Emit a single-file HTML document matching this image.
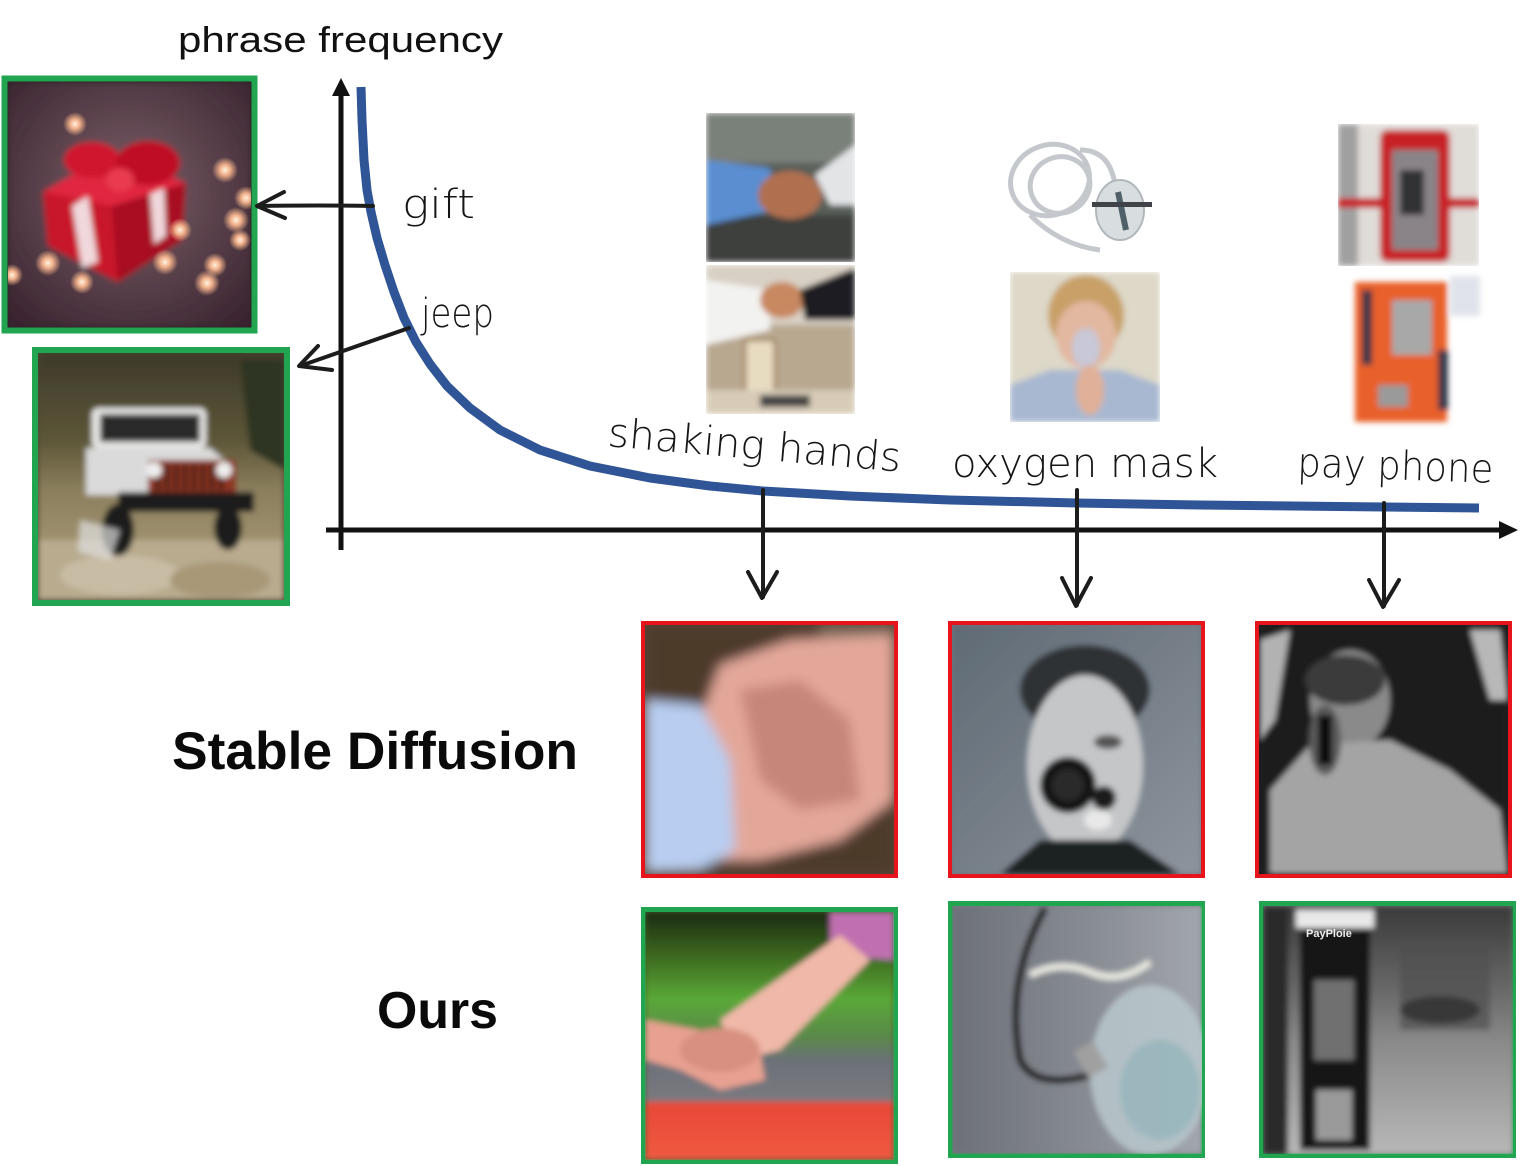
<!DOCTYPE html>
<html><head><meta charset="utf-8"><style>
html,body{margin:0;padding:0;background:#fff;}
svg{display:block;}
.hw{font-family:"DejaVu Sans","Liberation Sans",sans-serif;font-weight:200;fill:#151515;}
.ax{font-family:"Liberation Sans",Arial,sans-serif;}
</style></head><body>
<svg width="1522" height="1166" viewBox="0 0 1522 1166" xmlns="http://www.w3.org/2000/svg">
<defs>
<filter id="b3" x="-10%" y="-10%" width="120%" height="120%"><feGaussianBlur stdDeviation="3"/></filter>
<filter id="b6" x="-10%" y="-10%" width="120%" height="120%"><feGaussianBlur stdDeviation="6"/></filter>
<radialGradient id="giftbg" cx="0.5" cy="0.45" r="0.7"><stop offset="0" stop-color="#7c6068"/><stop offset="1" stop-color="#3a2430"/></radialGradient>
<radialGradient id="light" cx="0.5" cy="0.5" r="0.5"><stop offset="0" stop-color="#fff2e0"/><stop offset="0.4" stop-color="#f0b08a"/><stop offset="1" stop-color="#f0b08a" stop-opacity="0"/></radialGradient>
<linearGradient id="jeepbg" x1="0" y1="0" x2="0" y2="1"><stop offset="0" stop-color="#3e3a2a"/><stop offset="0.35" stop-color="#5c5638"/><stop offset="0.55" stop-color="#8a7e5c"/><stop offset="1" stop-color="#b6a684"/></linearGradient>
<linearGradient id="sdox" x1="0" y1="0" x2="1" y2="1"><stop offset="0" stop-color="#5f6a74"/><stop offset="1" stop-color="#8d949c"/></linearGradient>
<linearGradient id="ourox" x1="0" y1="0" x2="1" y2="0"><stop offset="0" stop-color="#6c7077"/><stop offset="0.6" stop-color="#8a8e95"/><stop offset="1" stop-color="#a2a6ad"/></linearGradient>
<linearGradient id="ourhand" x1="0" y1="0" x2="0" y2="1"><stop offset="0" stop-color="#1c2a10"/><stop offset="0.18" stop-color="#3d6a20"/><stop offset="0.35" stop-color="#5aa838"/><stop offset="0.5" stop-color="#5a8a48"/><stop offset="0.6" stop-color="#6c7078"/><stop offset="0.76" stop-color="#7a7a80"/><stop offset="0.77" stop-color="#e84838"/><stop offset="1" stop-color="#f05a40"/></linearGradient>
<linearGradient id="ourpay" x1="0" y1="0" x2="0" y2="1"><stop offset="0" stop-color="#3a3a3a"/><stop offset="0.35" stop-color="#6a6a6a"/><stop offset="0.55" stop-color="#8a8a8a"/><stop offset="1" stop-color="#b8b8b8"/></linearGradient>
<clipPath id="c1"><rect x="8" y="82" width="243" height="245"/></clipPath>
<clipPath id="c2"><rect x="38" y="353" width="246" height="247"/></clipPath>
<clipPath id="c3"><rect x="645" y="625" width="249" height="249"/></clipPath>
<clipPath id="c4"><rect x="952" y="625" width="249" height="249"/></clipPath>
<clipPath id="c5"><rect x="1259" y="625" width="249" height="249"/></clipPath>
<clipPath id="c6"><rect x="645" y="912" width="249" height="248"/></clipPath>
<clipPath id="c7"><rect x="952" y="906" width="250" height="248"/></clipPath>
<clipPath id="c8"><rect x="1263" y="906" width="250" height="248"/></clipPath>
<clipPath id="p1"><rect x="706" y="113" width="149" height="149"/></clipPath>
<clipPath id="p2"><rect x="706" y="265" width="149" height="149"/></clipPath>
<clipPath id="p4"><rect x="1010" y="272" width="150" height="150"/></clipPath>
<clipPath id="p5"><rect x="1338" y="124" width="141" height="142"/></clipPath>
</defs>

<!-- title -->
<text x="178" y="52" class="ax" font-size="36" textLength="325" lengthAdjust="spacingAndGlyphs" fill="#111">phrase frequency</text>

<!-- GIFT image -->
<rect x="4.5" y="78.5" width="250" height="252" fill="#2d2326" stroke="#22a550" stroke-width="6"/>
<g clip-path="url(#c1)">
 <g filter="url(#b3)">
  <rect x="8" y="82" width="243" height="245" fill="url(#giftbg)"/>
  <polygon points="43,192 112,152 186,183 182,240 118,282 48,246" fill="#c8142c"/>
  <polygon points="112,206 186,183 182,240 118,282" fill="#a80e22"/>
  <polygon points="43,192 112,152 186,183 112,206" fill="#e02640"/>
  <polygon points="72,206 88,196 98,262 82,268" fill="#f0d8dc"/>
  <polygon points="150,194 164,188 166,236 154,244" fill="#f0d8dc"/>
  <ellipse cx="92" cy="160" rx="28" ry="18" fill="#d0182e"/>
  <ellipse cx="148" cy="163" rx="32" ry="22" fill="#c01028"/>
  <ellipse cx="120" cy="180" rx="14" ry="12" fill="#e83a50"/>
 </g>
 <g>
  <circle cx="75" cy="124" r="12" fill="url(#light)"/>
  <circle cx="225" cy="170" r="13" fill="url(#light)"/>
  <circle cx="246" cy="198" r="12" fill="url(#light)"/>
  <circle cx="236" cy="220" r="13" fill="url(#light)"/>
  <circle cx="180" cy="230" r="12" fill="url(#light)"/>
  <circle cx="165" cy="262" r="13" fill="url(#light)"/>
  <circle cx="207" cy="283" r="13" fill="url(#light)"/>
  <circle cx="215" cy="265" r="12" fill="url(#light)"/>
  <circle cx="48" cy="263" r="13" fill="url(#light)"/>
  <circle cx="82" cy="282" r="12" fill="url(#light)"/>
  <circle cx="12" cy="275" r="11" fill="url(#light)"/>
  <circle cx="240" cy="240" r="11" fill="url(#light)"/>
 </g>
</g>

<!-- JEEP image -->
<rect x="35" y="350" width="252" height="253" fill="#4a4632" stroke="#22a550" stroke-width="6"/>
<g clip-path="url(#c2)">
 <g filter="url(#b3)">
  <rect x="38" y="353" width="246" height="247" fill="url(#jeepbg)"/>
  <polygon points="240,360 284,360 284,470 250,450" fill="#2e3620"/>
  <rect x="38" y="540" width="246" height="60" fill="#b8ab8e"/>
  <ellipse cx="120" cy="575" rx="60" ry="20" fill="#c8bca4"/>
  <ellipse cx="220" cy="580" rx="50" ry="18" fill="#a89878"/>
  <rect x="92" y="408" width="114" height="40" rx="6" fill="#e8e8e6"/>
  <rect x="100" y="414" width="100" height="28" fill="#2c2c2c"/>
  <polygon points="86,448 210,448 236,470 236,495 86,495" fill="#dadada"/>
  <rect x="148" y="460" width="88" height="36" fill="#8e3422"/>
  <g fill="#2a1a14"><rect x="156" y="464" width="4" height="26"/><rect x="165" y="464" width="4" height="26"/><rect x="174" y="464" width="4" height="26"/><rect x="183" y="464" width="4" height="26"/><rect x="192" y="464" width="4" height="26"/><rect x="201" y="464" width="4" height="26"/><rect x="210" y="464" width="4" height="26"/><rect x="219" y="464" width="4" height="26"/></g>
  <circle cx="154" cy="470" r="8" fill="#eee"/><circle cx="224" cy="470" r="8" fill="#eee"/>
  <rect x="118" y="492" width="136" height="20" fill="#1e1e1e"/>
  <ellipse cx="118" cy="530" rx="16" ry="26" fill="#1a1a1a"/>
  <ellipse cx="228" cy="528" rx="14" ry="22" fill="#1a1a1a"/>
  <polygon points="80,520 120,530 110,560 78,552" fill="#e0e0e0" opacity="0.7"/>
 </g>
</g>

<!-- axes -->
<line x1="341" y1="92" x2="341" y2="550" stroke="#111" stroke-width="5"/>
<polygon points="341,78 332,96 350,96" fill="#111"/>
<line x1="326" y1="530" x2="1502" y2="530" stroke="#111" stroke-width="5"/>
<polygon points="1518,530 1499,521 1499,539" fill="#111"/>

<!-- blue curve -->
<polyline fill="none" stroke="#2f5597" stroke-width="9" stroke-linejoin="round" points="361,87 362,120 364,160 367,190 371,212 377,238 385,265 394,292 404,318 416,342 430,364 447,386 470,408 500,430 540,450 590,466 650,478 710,486 763,491 850,496 950,500 1077,503 1200,505 1384,507 1479,508"/>

<!-- arrows -->
<g fill="none" stroke="#1c1c1c" stroke-width="4" stroke-linecap="round" stroke-linejoin="round">
 <path d="M373,206 Q320,205 258,206"/>
 <path d="M284,192 L257,206 L285,218"/>
 <path d="M409,328 Q360,345 300,366"/>
 <path d="M318,346 L299,366 L332,370"/>
 <path d="M763,490 L763,597"/>
 <path d="M748,572 L762,598 L777,572"/>
 <path d="M1077,490 L1077,605"/>
 <path d="M1062,578 L1076,606 L1091,578"/>
 <path d="M1384,503 L1384,606"/>
 <path d="M1369,580 L1383,607 L1399,580"/>
</g>

<!-- handwritten labels -->
<text x="402" y="218" class="hw" font-size="40" textLength="73" lengthAdjust="spacingAndGlyphs">gift</text>
<text x="421" y="327" class="hw" font-size="40" textLength="73" lengthAdjust="spacingAndGlyphs">jeep</text>
<text x="607" y="446" class="hw" font-size="40" textLength="294" lengthAdjust="spacingAndGlyphs" transform="rotate(5 607 446)">shaking hands</text>
<text x="952" y="477" class="hw" font-size="40" textLength="266" lengthAdjust="spacingAndGlyphs">oxygen mask</text>
<text x="1297" y="476" class="hw" font-size="40" textLength="196" lengthAdjust="spacingAndGlyphs" transform="rotate(2 1297 476)">pay phone</text>

<!-- top photos: shaking hands -->
<g clip-path="url(#p1)"><g filter="url(#b3)">
 <rect x="706" y="113" width="149" height="149" fill="#585e58"/>
 <rect x="706" y="113" width="149" height="50" fill="#7a807a"/>
 <rect x="706" y="215" width="149" height="47" fill="#3c403c"/>
 <polygon points="706,160 770,168 775,210 706,225" fill="#5a8ed0"/>
 <ellipse cx="790" cy="195" rx="32" ry="24" fill="#b07050"/>
 <polygon points="815,175 855,145 855,205 830,205" fill="#e2e4e6"/>
</g></g>
<g clip-path="url(#p2)"><g filter="url(#b3)">
 <rect x="706" y="265" width="149" height="149" fill="#b8a890"/>
 <rect x="706" y="265" width="149" height="60" fill="#d8d0c4"/>
 <polygon points="706,280 770,290 770,330 706,345" fill="#f2f2f0"/>
 <ellipse cx="782" cy="300" rx="22" ry="18" fill="#c88860"/>
 <polygon points="800,290 855,268 855,320 805,320" fill="#1e1e22"/>
 <rect x="745" y="340" width="30" height="55" fill="#e8dcc0" stroke="#a08060" stroke-width="3"/>
 <rect x="706" y="390" width="149" height="24" fill="#d8ccb8"/>
 <rect x="760" y="395" width="50" height="12" fill="#444"/>
</g></g>

<!-- top photos: oxygen mask -->
<g fill="none" stroke="#c4c8cc" stroke-width="5">
 <ellipse cx="1050" cy="180" rx="40" ry="35" transform="rotate(-20 1050 180)"/>
 <ellipse cx="1060" cy="185" rx="30" ry="28" transform="rotate(-20 1060 185)"/>
 <path d="M1030,215 Q1060,245 1100,250"/>
 <path d="M1080,150 Q1110,150 1115,185"/>
</g>
<ellipse cx="1120" cy="210" rx="24" ry="30" fill="#d8dde0" stroke="#b0b8bc" stroke-width="2"/>
<path d="M1118,192 L1126,230" stroke="#506068" stroke-width="6"/>
<rect x="1092" y="202" width="60" height="5" fill="#404448"/>
<g clip-path="url(#p4)"><g filter="url(#b3)">
 <rect x="1010" y="272" width="150" height="150" fill="#ddd8c8"/>
 <ellipse cx="1086" cy="315" rx="38" ry="40" fill="#c8a068"/>
 <ellipse cx="1086" cy="335" rx="30" ry="34" fill="#e2b8a0"/>
 <ellipse cx="1086" cy="348" rx="14" ry="20" fill="#c8c8d8"/>
 <polygon points="1010,385 1050,370 1120,370 1160,385 1160,422 1010,422" fill="#a8b8d0"/>
 <ellipse cx="1090" cy="390" rx="14" ry="25" fill="#e0b098"/>
</g></g>

<!-- top photos: pay phone -->
<g clip-path="url(#p5)"><g filter="url(#b3)">
 <rect x="1338" y="124" width="141" height="142" fill="#e0dcd8"/>
 <rect x="1338" y="124" width="20" height="142" fill="#a0a0a0"/>
 <rect x="1338" y="198" width="141" height="10" fill="#c8202a"/>
 <rect x="1380" y="130" width="70" height="132" rx="8" fill="#c82028"/>
 <rect x="1392" y="150" width="46" height="100" fill="#8a8488"/>
 <rect x="1400" y="170" width="24" height="45" fill="#303034"/>
</g></g>
<g filter="url(#b3)">
 <rect x="1355" y="282" width="92" height="140" fill="#e8602c"/>
 <rect x="1392" y="300" width="40" height="55" fill="#a8a8a8"/>
 <rect x="1362" y="290" width="10" height="75" fill="#303848"/>
 <rect x="1378" y="385" width="30" height="22" fill="#9a9a9a"/>
 <rect x="1438" y="350" width="10" height="60" fill="#303848"/>
 <rect x="1450" y="276" width="30" height="40" fill="#e0e4ea"/>
</g>

<!-- bottom-row frames -->
<rect x="643" y="623" width="253" height="253" fill="#5a4535" stroke="#e8141c" stroke-width="4"/>
<rect x="950" y="623" width="253" height="253" fill="#6d7780" stroke="#e8141c" stroke-width="4"/>
<rect x="1257" y="623" width="253" height="253" fill="#202020" stroke="#e8141c" stroke-width="4"/>
<rect x="643.5" y="909.5" width="252" height="252" fill="#40602a" stroke="#22a550" stroke-width="5"/>
<rect x="950.5" y="903.5" width="252" height="252" fill="#7a7e85" stroke="#22a550" stroke-width="5"/>
<rect x="1261.5" y="903.5" width="252" height="252" fill="#7a7a7a" stroke="#22a550" stroke-width="5"/>

<!-- SD hands -->
<g clip-path="url(#c3)"><g filter="url(#b6)">
 <rect x="645" y="625" width="249" height="249" fill="#4e3a2c"/>
 <rect x="820" y="625" width="74" height="120" fill="#7a6a58"/>
 <polygon points="720,665 790,640 894,635 894,800 840,840 760,860 700,860 680,800 700,720" fill="#e3a79a"/>
 <polygon points="740,690 800,680 850,720 860,800 800,810 760,780" fill="#c7867a"/>
 <polygon points="645,700 700,705 730,760 735,850 700,870 645,872" fill="#b8cdf0"/>
</g></g>

<!-- SD oxygen -->
<g clip-path="url(#c4)"><g filter="url(#b3)">
 <rect x="952" y="625" width="249" height="249" fill="url(#sdox)"/>
 <ellipse cx="1085" cy="690" rx="65" ry="45" fill="#2e3236"/>
 <ellipse cx="1085" cy="765" rx="58" ry="90" fill="#c4c6c8"/>
 <ellipse cx="1108" cy="742" rx="14" ry="7" fill="#555"/>
 <polygon points="1000,874 1040,840 1130,840 1180,874" fill="#1e2024"/>
 <circle cx="1068" cy="785" r="28" fill="#141414"/>
 <circle cx="1068" cy="785" r="16" fill="#2a2a2a"/>
 <circle cx="1104" cy="798" r="12" fill="#1a1a1a"/>
 <ellipse cx="1098" cy="820" rx="14" ry="10" fill="#e8e8e8"/>
</g></g>

<!-- SD payphone -->
<g clip-path="url(#c5)"><g filter="url(#b3)">
 <rect x="1259" y="625" width="249" height="249" fill="#1c1c1c"/>
 <polygon points="1260,640 1290,630 1275,720 1260,740" fill="#d8d8d8" opacity="0.8"/>
 <polygon points="1470,630 1500,630 1508,700 1490,700" fill="#e0e0e0" opacity="0.8"/>
 <ellipse cx="1350" cy="700" rx="40" ry="50" fill="#8a8a8a"/>
 <ellipse cx="1345" cy="680" rx="40" ry="25" fill="#3a3a3a"/>
 <polygon points="1270,790 1310,745 1390,740 1450,770 1500,810 1508,874 1270,874" fill="#a4a4a4"/>
 <ellipse cx="1325" cy="740" rx="16" ry="35" fill="#5a5a5a"/>
 <rect x="1318" y="715" width="14" height="50" fill="#111"/>
</g></g>

<!-- Ours hands -->
<g clip-path="url(#c6)"><g filter="url(#b3)">
 <rect x="645" y="912" width="249" height="248" fill="url(#ourhand)"/>
 <polygon points="830,912 894,912 894,960 830,955" fill="#c070b0"/>
 <polygon points="840,935 870,960 780,1050 740,1060 720,1020" fill="#f0b8a8"/>
 <polygon points="645,1020 700,1030 760,1050 765,1080 720,1090 680,1070 645,1060" fill="#e8a090"/>
 <ellipse cx="720" cy="1050" rx="40" ry="22" fill="#d89080"/>
</g></g>

<!-- Ours oxygen -->
<g clip-path="url(#c7)"><g filter="url(#b3)">
 <rect x="952" y="906" width="250" height="248" fill="url(#ourox)"/>
 <path d="M1045,908 Q1005,980 1020,1060 Q1035,1090 1090,1075" fill="none" stroke="#1a1a1a" stroke-width="7"/>
 <path d="M1030,975 Q1060,960 1090,972 Q1120,985 1150,962" fill="none" stroke="#e8e8e0" stroke-width="7"/>
 <ellipse cx="1150" cy="1070" rx="60" ry="85" fill="#b8c8cc" opacity="0.85"/>
 <ellipse cx="1160" cy="1090" rx="40" ry="50" fill="#8ab0b8" opacity="0.6"/>
 <rect x="1080" y="1045" width="22" height="30" fill="#a0a0a0" transform="rotate(-30 1090 1060)"/>
</g></g>

<!-- Ours payphone -->
<g clip-path="url(#c8)"><g filter="url(#b3)">
 <rect x="1263" y="906" width="250" height="248" fill="url(#ourpay)"/>
 <rect x="1400" y="940" width="90" height="90" fill="#505050" opacity="0.7"/>
 <ellipse cx="1440" cy="1010" rx="40" ry="14" fill="#2a2a2a" opacity="0.7"/>
 <rect x="1263" y="906" width="25" height="248" fill="#2a2a2a"/>
 <rect x="1300" y="920" width="70" height="230" fill="#151515"/>
 <rect x="1296" y="910" width="78" height="18" fill="#e8e8e8"/>
 <rect x="1314" y="980" width="40" height="80" fill="#707070"/>
 <rect x="1316" y="1090" width="36" height="50" fill="#9a9a9a"/>
</g>
 <text x="1306" y="937" font-family="Liberation Sans, sans-serif" font-weight="bold" font-size="11" fill="#eee">PayPloie</text>
</g>

<!-- row labels -->
<text x="172" y="769" class="ax" font-size="53" font-weight="bold" fill="#0a0a0a" textLength="406" lengthAdjust="spacingAndGlyphs">Stable Diffusion</text>
<text x="377" y="1028" class="ax" font-size="52" font-weight="bold" fill="#0a0a0a" textLength="121" lengthAdjust="spacingAndGlyphs">Ours</text>
</svg>
</body></html>
